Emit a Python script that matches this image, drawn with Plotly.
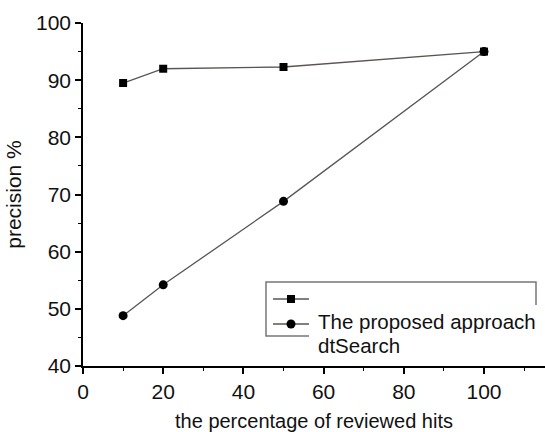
import plotly.graph_objects as go

# data
reviewed_pct = [10, 20, 50, 100]
proposed_precision = [89.5, 92.0, 92.3, 95.0]
dtsearch_precision = [48.8, 54.2, 68.8, 95.0]
legend_labels = ["The proposed approach", "dtSearch"]
x_ticks = [0, 20, 40, 60, 80, 100]
y_ticks = [40, 50, 60, 70, 80, 90, 100]

W, H = 545, 432
L, R, T, B = 83, 0, 23, 66
PW, PH = W - L - R, H - T - B

def px(x):
    return (x - L) / PW

def py(y):
    return (H - B - y) / PH

FONT = "Liberation Sans, Arial, sans-serif"
LINE = "#5a5452"

fig = go.Figure()
fig.add_trace(go.Scatter(x=reviewed_pct, y=proposed_precision, mode="lines+markers",
                         line=dict(color=LINE, width=1.3),
                         marker=dict(symbol="square", size=8, color="black"),
                         showlegend=False))
fig.add_trace(go.Scatter(x=reviewed_pct, y=dtsearch_precision, mode="lines+markers",
                         line=dict(color=LINE, width=1.3),
                         marker=dict(symbol="circle", size=9, color="black"),
                         showlegend=False))

axis_common = dict(showline=True, linecolor="black", linewidth=1.5, ticks="outside",
                   tickcolor="black", tickwidth=1.5, ticklen=6, showgrid=False,
                   zeroline=False, tickfont=dict(family=FONT, size=21, color="#111"),
                   minor=dict(ticks="outside", ticklen=3.5, tickcolor="black", tickwidth=1.2))

fig.update_xaxes(range=[0, PW / 4.01], tickvals=x_ticks, dtick=20,
                 minor_dtick=10,
                 title=dict(text="the percentage of reviewed hits", standoff=13,
                            font=dict(family=FONT, size=20, color="#111")),
                 **axis_common)
fig.update_yaxes(range=[40, 100], tickvals=y_ticks, dtick=10, minor_dtick=5,
                 title=dict(text="precision %", standoff=9,
                            font=dict(family=FONT, size=21, color="#111")),
                 **axis_common)

# manual legend (reproducing the original's offset legend box)
box_col = "#777777"
shapes = [
    dict(type="path", xref="paper", yref="paper",
         path=f"M {px(309)} {py(336)} L {px(266)} {py(336)} L {px(266)} {py(282)} "
              f"L {px(536)} {py(282)} L {px(536)} {py(305)}",
         line=dict(color=box_col, width=1.5)),
    dict(type="line", xref="paper", yref="paper", x0=px(273), x1=px(309), y0=py(299), y1=py(299),
         line=dict(color=LINE, width=1.3)),
    dict(type="rect", xref="paper", yref="paper", x0=px(287), x1=px(295), y0=py(295), y1=py(303),
         fillcolor="black", line=dict(width=0)),
    dict(type="line", xref="paper", yref="paper", x0=px(273), x1=px(309), y0=py(324), y1=py(324),
         line=dict(color=LINE, width=1.3)),
    dict(type="circle", xref="paper", yref="paper", x0=px(286.5), x1=px(295.5), y0=py(319.5), y1=py(328.5),
         fillcolor="black", line=dict(width=0)),
]
annotations = [
    dict(text=legend_labels[0], xref="paper", yref="paper", x=px(316), y=py(321),
         xanchor="left", yanchor="middle", showarrow=False,
         font=dict(family=FONT, size=20.5, color="#111")),
    dict(text=legend_labels[1], xref="paper", yref="paper", x=px(316), y=py(345),
         xanchor="left", yanchor="middle", showarrow=False,
         font=dict(family=FONT, size=20.5, color="#111")),
]

fig.update_layout(width=W, height=H, margin=dict(l=L, r=R, t=T, b=B),
                  plot_bgcolor="white", paper_bgcolor="white",
                  shapes=shapes, annotations=annotations, showlegend=False)

fig.write_html("out.html")
